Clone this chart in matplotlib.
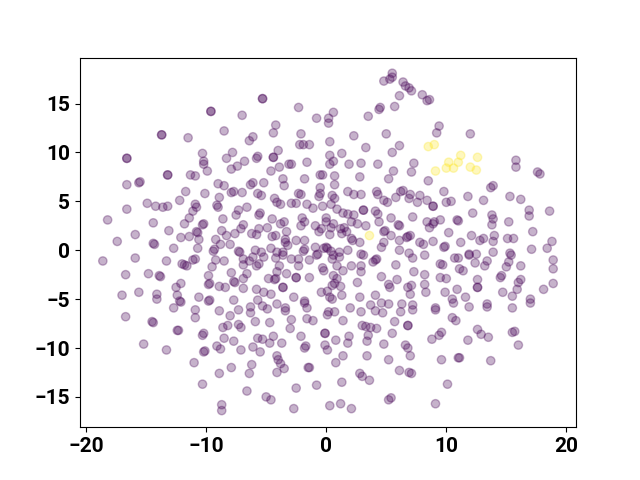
import matplotlib
matplotlib.use("Agg")
import matplotlib.pyplot as plt
import numpy as np

plt.rcParams['font.family'] = ['Roboto', 'DejaVu Sans']
plt.rcParams['font.weight'] = 'bold'

# embedding points, class 0 (purple)
top_mid = [(5.5, 18.1), (5.5, 17.7), (4.8, 17.3), (5.3, 17.5), (6.4, 17.2), (6.6, 16.8), (6.9, 16.6), (7.1, 16.3),
           (6.1, 15.8), (-5.3, 15.5), (-5.3, 15.5), (-2.3, 14.6), (5.7, 14.7), (4.5, 14.6), (4.4, 14.4), (3.5, 13.7),
           (-0.8, 13.5), (0.6, 14.1), (0.2, 13.5), (0.2, 13.0), (-7.0, 13.8), (-4.2, 12.8), (-4.4, 12.0), (-6.1, 11.6),
           (-6.4, 11.2), (-2.1, 11.9), (-2.2, 10.8), (-1.9, 10.8), (-1.4, 10.8), (0.3, 11.1), (2.3, 11.7), (5.0, 11.9),
           (3.3, 10.5), (6.1, 10.7), (5.5, 10.0), (-4.0, 10.2), (-4.4, 9.5), (-4.4, 9.5), (-5.8, 9.4), (-5.7, 9.6),
           (-6.8, 9.1), (0.3, 9.7), (0.6, 9.1), (0.3, 8.8), (1.3, 9.9), (-1.6, 9.0), (-3.1, 8.8), (-2.9, 8.8),
           (-3.9, 8.5), (-4.6, 8.1), (1.9, 8.8), (2.9, 8.9), (4.3, 8.8), (5.6, 8.1), (7.3, 8.9), (7.1, 8.0),
           (-1.8, 7.3), (-0.5, 7.7), (-0.3, 7.7), (0.7, 7.6), (2.8, 7.5), (5.2, 7.3)]
top_left = [(-9.6, 14.2), (-9.6, 14.2), (-13.7, 11.8), (-13.7, 11.8), (-11.5, 11.5), (-8.5, 12.2), (-16.6, 9.4),
            (-16.6, 9.4), (-10.3, 9.9), (-10.2, 9.1), (-10.2, 8.8), (-9.9, 8.1), (-8.3, 9.4), (-7.8, 10.0),
            (-7.4, 8.6), (-7.9, 8.3), (-13.2, 7.7), (-13.2, 7.7), (-11.3, 7.7), (-10.9, 7.6)]
top_right = [(8.0, 15.9), (8.4, 15.3), (8.6, 15.4), (9.4, 12.7), (9.2, 12.0), (12.0, 11.9), (15.8, 9.2), (15.8, 8.5),
             (17.6, 8.0), (17.8, 7.8), (8.5, 7.1)]
mid_left = [(-16.6, 6.7), (-15.5, 7.0), (-15.6, 6.9), (-9.0, 6.8), (-8.5, 6.6), (-7.9, 5.9), (-7.7, 6.0), (-7.0, 5.9),
            (-11.7, 6.0), (-10.1, 5.8), (-8.9, 5.4), (-12.2, 5.1), (-14.9, 4.8), (-14.2, 4.5), (-13.6, 4.4),
            (-13.2, 4.5), (-10.9, 4.7), (-10.8, 4.4), (-11.1, 4.0), (-9.1, 4.6), (-9.0, 4.4), (-7.3, 4.1), (-7.5, 3.6),
            (-16.6, 4.2), (-18.2, 3.1), (-14.4, 2.8), (-11.8, 2.7), (-11.4, 3.3), (-10.3, 2.6), (-10.2, 2.7),
            (-8.6, 3.2), (-13.1, 2.0), (-10.8, 1.9), (-10.7, 1.8), (-12.1, 1.3), (-11.4, 1.4), (-10.6, 1.1),
            (-8.7, 2.0), (-8.3, 1.5), (-7.6, 1.7), (-7.1, 2.2), (-6.9, 2.6), (-17.4, 0.9), (-15.9, 1.6), (-14.3, 0.6),
            (-14.4, 0.7), (-12.7, 0.2), (-10.7, 0.2), (-9.2, 1.1), (-8.8, 0.6), (-8.0, 0.6), (-7.2, -0.2),
            (-7.3, -0.1), (-9.4, -0.1), (-9.3, 0.1), (-18.6, -1.1), (-15.9, -0.8), (-13.3, -1.1), (-12.0, -1.4),
            (-11.6, -1.6), (-11.8, -1.5), (-11.1, -1.0), (-10.9, -0.9), (-9.2, -1.0), (-8.5, -1.1), (-9.5, -1.7),
            (-6.9, -0.9), (-6.9, -1.5), (-16.7, -2.5), (-14.8, -2.4), (-13.8, -2.7), (-13.9, -2.6), (-9.8, -2.6),
            (-7.9, -2.3), (-6.9, -2.9), (-12.5, -3.8), (-12.1, -3.4), (-9.8, -3.5), (-9.7, -3.4), (-8.9, -3.7),
            (-8.4, -3.8), (-7.7, -3.2), (-7.6, -3.3), (-6.9, -3.9), (-17.0, -4.6), (-15.6, -4.3), (-14.1, -4.5),
            (-14.1, -5.0), (-12.4, -4.6), (-12.1, -5.3), (-12.2, -5.2), (-10.6, -4.8), (-9.8, -5.2), (-9.7, -5.1),
            (-7.7, -5.1)]
low_left = [(-16.7, -6.8), (-14.4, -7.4), (-14.5, -7.3), (-12.7, -5.9), (-10.9, -6.1), (-10.9, -6.9), (-8.9, -6.2),
            (-8.0, -6.7), (-7.3, -6.1), (-12.4, -8.2), (-12.3, -8.2), (-10.3, -8.7), (-10.2, -8.5), (-8.6, -7.9),
            (-8.2, -7.7), (-7.3, -7.6), (-7.1, -7.9), (-8.5, -9.0), (-7.7, -9.3), (-15.2, -9.6), (-13.3, -10.2),
            (-10.1, -10.3), (-10.2, -10.4), (-9.1, -9.8), (-8.8, -10.1), (-7.1, -10.2), (-11.0, -11.5), (-8.9, -12.6),
            (-7.9, -12.0), (-10.3, -13.7), (-8.7, -15.8), (-8.7, -16.4)]
low_mid = [(-6.3, -5.8), (-6.3, -6.4), (-5.3, -5.7), (-4.9, -6.0), (-3.4, -5.9), (-3.4, -6.2), (-1.8, -5.4),
           (-1.6, -5.9), (0.2, -6.3), (0.1, -6.6), (0.7, -6.3), (2.0, -5.9), (2.9, -6.3), (3.7, -5.6), (4.1, -6.2),
           (4.7, -6.4), (5.2, -5.5), (6.3, -5.5), (6.2, -6.3), (-5.9, -7.3), (-4.7, -7.4), (-2.9, -7.1), (-3.0, -8.0),
           (-1.6, -7.0), (-1.1, -7.2), (1.4, -7.2), (3.0, -7.7), (3.3, -7.8), (3.7, -7.9), (4.2, -8.0), (5.7, -7.3),
           (6.8, -7.7), (6.8, -7.7), (-5.7, -9.0), (-5.3, -9.1), (-4.7, -9.5), (-4.4, -8.8), (-3.7, -9.5),
           (-2.1, -8.8), (-1.8, -10.0), (-1.7, -9.8), (-0.1, -8.5), (-0.1, -8.5), (-0.1, -9.7), (0.1, -10.2),
           (0.8, -9.2), (1.9, -8.8), (1.8, -9.5), (3.4, -9.3), (3.5, -8.7), (4.8, -9.6), (5.5, -8.5), (6.6, -9.7),
           (6.8, -10.0), (7.0, -10.8), (-6.1, -9.9), (-5.5, -10.4), (-4.1, -10.8), (-4.0, -11.2), (-3.8, -11.6),
           (-6.2, -11.7), (-3.5, -12.1), (-4.1, -12.5), (-6.4, -12.6), (-1.5, -12.0), (-1.4, -12.0), (1.4, -10.8),
           (0.8, -11.5), (3.4, -10.8), (5.2, -11.2), (6.1, -12.3), (2.8, -12.6), (3.0, -12.9), (3.6, -13.3),
           (6.9, -12.5), (7.1, -12.6), (-0.8, -13.8), (1.3, -13.5), (-2.5, -14.1), (-6.6, -14.4), (-5.0, -15.0),
           (-4.6, -15.3), (5.2, -15.3), (5.4, -15.1), (-2.7, -16.2), (0.3, -15.9), (1.2, -15.7), (2.1, -16.2)]
low_right = [(7.2, -5.6), (7.2, -6.1), (9.1, -5.9), (9.1, -6.1), (10.6, -5.4), (11.9, -5.8), (13.4, -5.5),
             (13.4, -5.8), (15.5, -5.9), (17.0, -5.4), (10.5, -6.9), (10.8, -7.2), (8.8, -9.1), (9.4, -8.7),
             (9.6, -8.4), (11.8, -9.2), (12.6, -8.1), (12.9, -8.6), (13.5, -8.9), (15.5, -8.4), (15.7, -8.3),
             (16.0, -9.7), (9.6, -11.2), (11.1, -11.0), (11.0, -11.0), (13.7, -11.3), (10.1, -13.7), (9.1, -15.7)]
mid_right = [(13.7, 6.4), (13.9, 6.6), (7.8, 5.6), (7.6, 4.9), (8.4, 5.1), (8.9, 4.5), (8.9, 4.5), (9.8, 6.0),
             (10.0, 4.9), (10.4, 5.0), (11.8, 5.5), (13.1, 5.1), (15.3, 5.5), (16.2, 5.2), (16.9, 4.1), (16.9, 3.5),
             (18.6, 4.0), (7.2, 3.4), (8.4, 2.9), (8.6, 2.3), (8.9, 2.7), (9.0, 2.9), (9.5, 3.1), (10.9, 3.1),
             (11.0, 3.0), (12.2, 3.8), (13.8, 3.6), (13.9, 3.2), (13.8, 2.6), (15.2, 2.9), (17.2, 1.9), (10.2, 1.8),
             (7.0, 1.5), (7.8, 0.8), (8.1, 0.6), (8.9, 0.9), (9.8, 0.3), (9.9, 0.4), (11.2, 0.8), (12.1, 1.5),
             (12.8, 1.0), (13.1, 1.2), (14.0, 1.5), (13.9, 0.9), (15.1, 1.2), (15.6, 1.2), (18.8, 0.9), (18.4, 0.2),
             (17.1, 0.1), (7.2, -0.8), (8.2, -0.5), (10.7, -0.8), (11.0, -0.8), (11.9, -0.5), (11.9, -0.4),
             (12.5, -0.4), (13.9, -0.2), (15.3, -0.3), (15.4, -0.5), (15.2, -1.2), (15.0, -1.7), (13.4, -1.1),
             (13.2, -1.6), (9.5, -1.4), (9.7, -1.5), (11.1, -1.9), (11.4, -2.1), (12.4, -1.3), (16.2, -1.6),
             (18.9, -1.0), (18.9, -1.9), (7.3, -2.2), (8.2, -2.5), (8.2, -3.5), (9.5, -2.8), (10.0, -2.9),
             (12.6, -3.0), (12.6, -3.8), (12.6, -3.8), (14.6, -2.6), (14.5, -2.8), (16.2, -3.0), (16.0, -3.3),
             (15.9, -4.0), (18.9, -3.4), (18.1, -4.0), (7.1, -3.6), (7.0, -4.5), (8.3, -4.3), (9.9, -4.3),
             (10.9, -4.0), (10.5, -5.0), (11.6, -4.8), (14.7, -4.3), (15.5, -4.7), (17.0, -5.0)]
center = [(-6.1, 6.9), (-6.3, 6.7), (-5.2, 6.9), (-3.6, 7.3), (-3.5, 6.6), (-0.5, 6.4), (0.7, 6.7), (-5.7, 5.8),
          (-5.4, 5.6), (-4.3, 5.3), (-4.1, 4.9), (-3.8, 4.7), (-2.3, 5.8), (-2.1, 5.7), (-2.9, 4.8), (-2.5, 4.8),
          (-0.6, 5.5), (-0.5, 5.8), (0.5, 5.6), (1.8, 6.0), (2.3, 5.7), (2.9, 5.7), (4.2, 6.0), (4.3, 5.7),
          (4.8, 5.1), (5.1, 4.9), (5.8, 5.4), (6.2, 6.0), (6.4, 6.1), (7.0, 5.7), (6.9, 5.3), (-1.6, 4.7),
          (-1.1, 4.3), (-0.3, 4.5), (0.7, 5.3), (0.4, 4.7), (0.9, 4.2), (1.4, 3.8), (1.8, 3.7), (2.3, 3.6),
          (3.1, 4.1), (3.1, 4.1), (4.1, 4.0), (4.3, 3.7), (5.4, 3.3), (-6.6, 4.4), (-5.5, 3.8), (-5.6, 3.6),
          (-4.5, 3.2), (-3.5, 2.9), (-3.8, 2.7), (-2.0, 3.3), (-1.8, 2.9), (-2.1, 2.5), (-0.9, 2.5), (0.0, 3.3),
          (0.0, 2.9), (0.6, 2.7), (1.5, 2.3), (1.2, 2.2), (1.3, 1.7), (2.1, 2.9), (2.6, 2.7), (3.3, 2.5),
          (4.8, 1.9), (4.9, 2.0), (4.4, 2.9), (6.1, 2.5), (6.0, 2.6), (6.7, 1.3), (6.8, 1.4), (-6.2, 1.7),
          (-5.8, 1.6), (-5.6, 2.2), (-4.9, 2.3), (-4.5, 1.4), (-4.2, 1.5), (-3.3, 1.9), (-0.4, 2.2), (-0.6, 1.9),
          (0.3, 1.6), (0.4, 2.3), (1.7, 1.9), (2.1, 1.2), (2.2, 1.0), (2.8, 0.8), (4.6, 0.3), (4.8, 0.8),
          (6.1, 1.0), (6.1, 0.0), (5.4, 1.5), (-3.4, 0.8), (-3.4, 1.1), (-3.2, 0.5), (-2.5, 1.0), (-1.8, 1.0),
          (-1.8, 0.1), (-1.9, -0.1), (-0.9, 0.3), (-0.8, -0.5), (-0.7, -0.4), (-0.2, 0.2), (0.1, 0.2), (0.0, 0.3),
          (0.4, -0.1), (0.6, -0.5), (0.5, -0.9), (1.1, -0.2), (1.1, -0.7), (1.8, 0.0), (2.9, -0.4), (3.1, -0.5),
          (4.2, -0.9), (4.1, -1.0), (5.8, -1.5), (6.9, -0.3), (-5.9, 0.0), (-5.4, -0.2), (-5.2, -0.7), (-4.6, 0.2),
          (-4.1, -0.2), (-4.2, -0.8), (-3.6, -0.2), (-3.6, -0.5), (-2.9, -0.9), (-2.3, -0.9), (-2.3, -1.6),
          (-1.4, -1.0), (-6.1, -0.7), (-6.4, -1.1), (-5.6, -1.4), (-5.8, -1.6), (-3.9, -1.6), (-4.1, -2.2),
          (-3.3, -2.4), (-0.3, -1.8), (-0.2, -2.1), (0.9, -1.6), (1.4, -2.1), (2.1, -1.6), (2.9, -1.6), (2.9, -2.2),
          (3.9, -1.2), (-6.6, -2.4), (-4.8, -2.9), (-4.3, -3.0), (-4.2, -2.9), (-2.5, -2.8), (-2.5, -2.8),
          (-1.4, -2.8), (0.6, -2.6), (0.9, -2.9), (2.6, -3.3), (4.6, -2.7), (5.2, -3.5), (5.3, -3.8), (5.9, -3.0),
          (-5.8, -4.0), (-5.2, -4.3), (-4.6, -4.5), (-3.6, -3.8), (-3.6, -3.8), (-2.7, -4.8), (-1.8, -5.2),
          (-0.4, -4.3), (0.1, -4.2), (0.3, -4.8), (0.5, -3.6), (0.7, -3.4), (1.2, -3.7), (1.3, -4.6), (0.5, -5.0),
          (2.8, -4.8), (4.1, -4.6), (6.8, -3.8), (4.6, -5.4), (-5.7, -5.1), (-4.1, -5.5)]

# class 1 (yellow)
yellow = [(8.5, 10.6), (9.0, 10.8), (11.2, 9.7), (11.0, 9.0), (10.2, 9.0), (10.0, 8.4), (10.6, 8.4), (12.6, 9.5),
          (12.0, 8.5), (12.5, 8.2), (9.1, 8.1), (3.6, 1.5)]

purple = np.array(top_mid + top_left + top_right + mid_left + low_left + low_mid + low_right + mid_right + center)
gold = np.array(yellow)
pts = np.vstack([purple, gold])
labels = np.concatenate([np.zeros(len(purple)), np.ones(len(gold))])

fig, ax = plt.subplots(figsize=(6.4, 4.8), dpi=100)
ax.scatter(pts[:, 0], pts[:, 1], c=labels, cmap='viridis', alpha=0.3)
ax.set_xlim(-20.5, 20.8)
ax.set_ylim(-18.1, 19.7)
ax.tick_params(labelsize=15)
for lab in ax.get_xticklabels() + ax.get_yticklabels():
    lab.set_fontweight('bold')

plt.savefig('out.png')
